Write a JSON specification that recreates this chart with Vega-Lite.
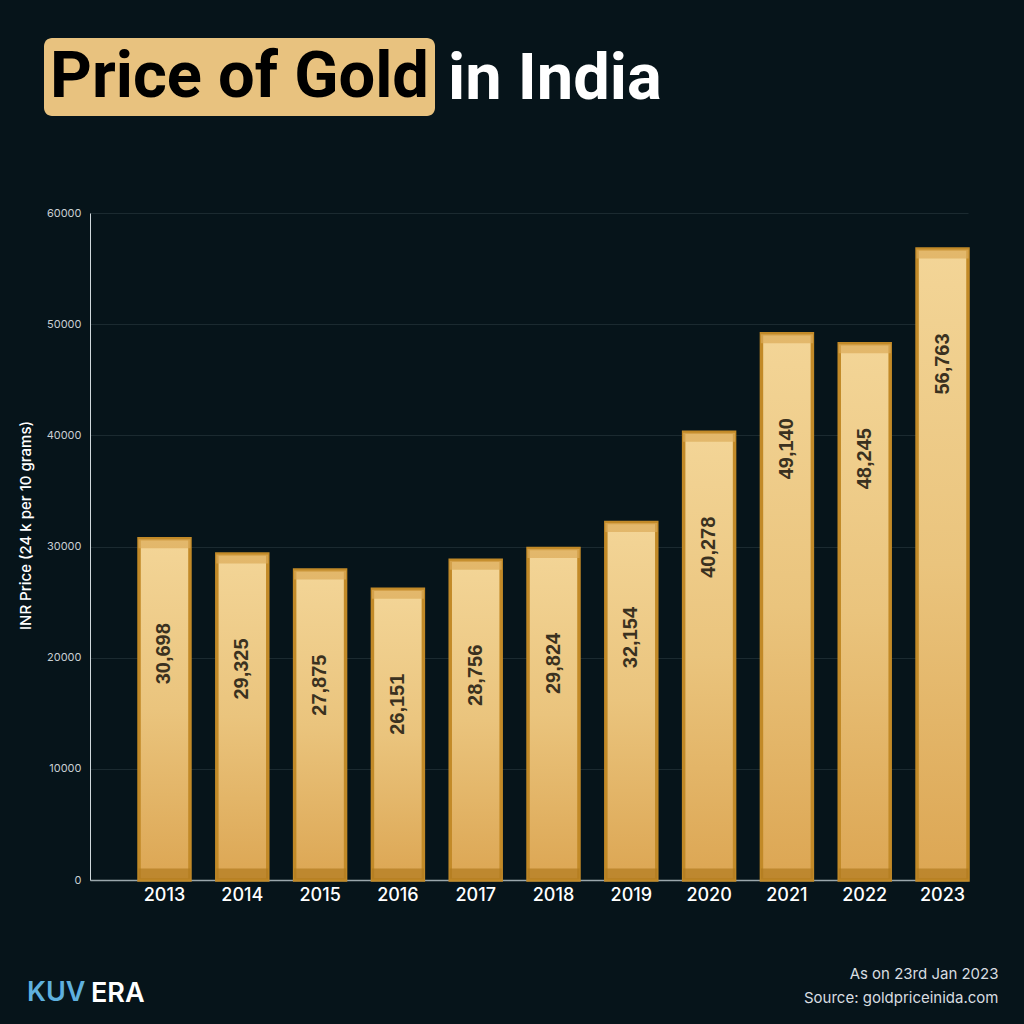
{
  "$schema": "https://vega.github.io/schema/vega-lite/v6.json",
  "usermeta": {"embedOptions": {"actions": false}},
  "width": 878,
  "height": 667,
  "autosize": {"type": "none"},
  "padding": {"left": 90, "top": 213, "right": 56, "bottom": 144},
  "background": "#06141a",
  "title": {
    "text": "in India",
    "anchor": "start",
    "frame": "group",
    "dx": 358,
    "offset": -75,
    "font": "Roboto",
    "fontWeight": "bold",
    "fontSize": 65,
    "color": "#ffffff"
  },
  "data": {
    "values": [
      {"year": "2013", "price": 30698},
      {"year": "2014", "price": 29325},
      {"year": "2015", "price": 27875},
      {"year": "2016", "price": 26151},
      {"year": "2017", "price": 28756},
      {"year": "2018", "price": 29824},
      {"year": "2019", "price": 32154},
      {"year": "2020", "price": 40278},
      {"year": "2021", "price": 49140},
      {"year": "2022", "price": 48245},
      {"year": "2023", "price": 56763}
    ]
  },
  "encoding": {
    "x": {
      "field": "year",
      "type": "nominal",
      "sort": null,
      "scale": {"paddingInner": 0.345, "paddingOuter": 0.315, "align": 1},
      "axis": {
        "title": ["As on 23rd Jan 2023", "Source: goldpriceinida.com"],
        "titleX": 908,
        "titleY": 98,
        "titleAlign": "right",
        "titleBaseline": "alphabetic",
        "titleFont": "Inter",
        "titleFontWeight": "normal",
        "titleFontSize": 15,
        "titleColor": "#d8dde0",
        "titleLineHeight": 24,
        "labelFont": "Inter",
        "labelFontSize": 18,
        "labelFontWeight": 500,
        "labelColor": "#ffffff",
        "labelAngle": 0,
        "labelPadding": 6,
        "ticks": false,
        "domainColor": "#9aa7ac",
        "domainWidth": 1.5
      }
    },
    "y": {
      "field": "price",
      "type": "quantitative",
      "scale": {"domain": [0, 60000]},
      "axis": {
        "title": "INR Price (24 k per 10 grams)",
        "titleX": -65,
        "titleY": 312,
        "titleAngle": 270,
        "titleAlign": "center",
        "titleBaseline": "middle",
        "titleFont": "Inter",
        "titleFontSize": 15,
        "titleFontWeight": 500,
        "titleColor": "#ffffff",
        "values": [0, 10000, 20000, 30000, 40000, 50000, 60000],
        "format": "d",
        "labelFont": "Inter",
        "labelFontSize": 11,
        "labelColor": "#c8cfd3",
        "labelPadding": 9,
        "ticks": false,
        "domainColor": "#d0d8dc",
        "grid": true,
        "gridColor": "#1b2a30",
        "gridWidth": 1
      }
    }
  },
  "layer": [
    {
      "mark": {
        "type": "bar",
        "fill": {
          "gradient": "linear",
          "x1": 0, "y1": 0, "x2": 0, "y2": 1,
          "stops": [
            {"offset": 0, "color": "#f3d597"},
            {"offset": 0.5, "color": "#eac47d"},
            {"offset": 1, "color": "#dca653"}
          ]
        },
        "stroke": "#c28a28",
        "strokeWidth": 3.5
      },
      "encoding": {
        "opacity": {
          "datum": "KUV",
          "type": "nominal",
          "scale": {"range": [1]},
          "legend": {
            "title": null,
            "orient": "none",
            "legendX": -63,
            "legendY": 766,
            "padding": 0,
            "labelFont": "Inter",
            "labelFontWeight": 600,
            "labelFontSize": 27,
            "labelColor": "#5fb0de",
            "labelOffset": -27,
            "labelLimit": 500,
            "symbolSize": 0,
            "symbolOpacity": 0,
            "symbolStrokeWidth": 0
          }
        }
      }
    },
    {
      "mark": {"type": "tick", "thickness": 9, "yOffset": 5, "size": 52},
      "encoding": {
        "color": {
          "datum": "Price of Gold",
          "type": "nominal",
          "scale": {"range": ["#dcab58"]},
          "legend": {
            "title": null,
            "orient": "none",
            "legendX": -46,
            "legendY": -175,
            "fillColor": "#e8c27f",
            "cornerRadius": 8,
            "padding": 6,
            "labelFont": "Roboto",
            "labelFontWeight": "bold",
            "labelFontSize": 65,
            "labelColor": "#000000",
            "labelLimit": 2000,
            "labelOffset": -65,
            "symbolSize": 0,
            "symbolOpacity": 0,
            "symbolStrokeWidth": 0
          }
        }
      }
    },
    {
      "mark": {"type": "tick", "thickness": 11, "yOffset": -6, "color": "#b07b1f"},
      "encoding": {
        "y": {"datum": 0, "type": "quantitative"},
        "size": {
          "datum": "ERA",
          "type": "nominal",
          "scale": {"range": [52, 52]},
          "legend": {
            "title": null,
            "orient": "none",
            "legendX": 2,
            "legendY": 767,
            "padding": 0,
            "labelFont": "Inter",
            "labelFontWeight": 600,
            "labelFontSize": 27,
            "labelColor": "#ffffff",
            "labelOffset": -28,
            "labelLimit": 500,
            "symbolOpacity": 0,
            "symbolStrokeWidth": 0
          }
        }
      }
    },
    {
      "mark": {
        "type": "text",
        "angle": 270,
        "dx": -115,
        "align": "center",
        "baseline": "middle",
        "font": "Liberation Sans",
        "fontWeight": "bold",
        "fontSize": 20,
        "color": "#3a3120"
      },
      "encoding": {
        "text": {"field": "price", "type": "quantitative", "format": ","}
      }
    }
  ],
  "config": {"view": {"stroke": null}}
}
